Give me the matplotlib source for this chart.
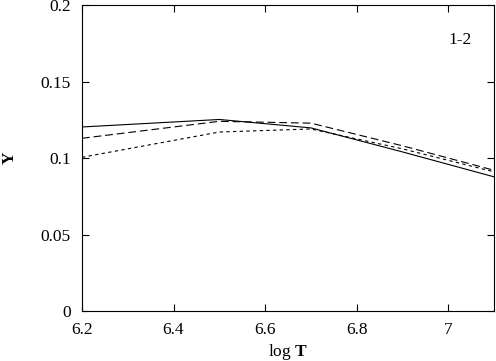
import matplotlib
matplotlib.use("Agg")
import matplotlib.pyplot as plt

plt.rcParams["font.family"] = ["Liberation Serif", "DejaVu Serif"]
plt.rcParams["mathtext.fontset"] = "custom"
plt.rcParams["mathtext.rm"] = "Liberation Serif"
plt.rcParams["mathtext.bf"] = "Liberation Serif:bold"

log_t = [6.2, 6.5, 6.7, 6.9, 7.1]
y_solid = [0.1203, 0.1252, 0.1197, 0.1040, 0.0877]
y_long = [0.1129, 0.1240, 0.1228, 0.1080, 0.0920]
y_short = [0.1005, 0.1170, 0.1190, 0.1060, 0.0910]

fig = plt.figure(figsize=(4.96, 3.61), dpi=100)
ax = fig.add_axes([0.1653, 0.1385, 0.8307, 0.8475])

ax.plot(log_t, y_solid, color="black", lw=0.8, ls="-")
ax.plot(log_t, y_long, color="black", lw=0.8, ls=(0, (7, 3.5)))
ax.plot(log_t, y_short, color="black", lw=0.8, ls=(0, (3, 3)))

ax.set_xlim(6.2, 7.1)
ax.set_ylim(0, 0.2)
ax.set_xticks([6.2, 6.4, 6.6, 6.8, 7.0])
ax.set_xticklabels(["6.2", "6.4", "6.6", "6.8", "7"])
ax.set_yticks([0, 0.05, 0.1, 0.15, 0.2])
ax.set_yticklabels(["0", "0.05", "0.1", "0.15", "0.2"])
ax.tick_params(direction="in", top=True, right=True, length=5, width=0.8,
               labelsize=12.5)
ax.tick_params(axis="x", pad=8)
ax.tick_params(axis="y", pad=8)
for s in ax.spines.values():
    s.set_linewidth(0.8)

ax.set_xlabel(r"log $\mathbf{T}$", fontsize=12.5)
ax.xaxis.set_label_coords(0.5, -0.134)
ax.set_ylabel("Y", fontsize=12.5, fontweight="bold")
ax.yaxis.set_label_coords(-0.175, 0.5)
ax.xaxis.label.set_va("center")
ax.yaxis.label.set_va("center")
ax.text(0.945, 0.886, "1-2", transform=ax.transAxes, ha="right", va="center",
        fontsize=12.5)

fig.savefig("out.png", dpi=100)
